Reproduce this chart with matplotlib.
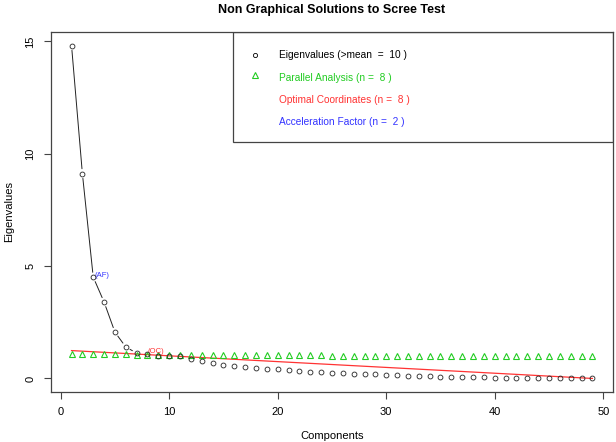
import matplotlib
matplotlib.use("Agg")
import matplotlib.pyplot as plt
from matplotlib.patches import Rectangle

plt.rcParams['font.family'] = ['Liberation Sans', 'DejaVu Sans']

# valeurs propres
components = list(range(1, 50))
eigenvalues = [14.82, 9.12, 4.51, 3.40, 2.06, 1.40, 1.13, 1.08, 1.02, 1.00,
               0.98, 0.86, 0.77, 0.69, 0.60, 0.57, 0.53, 0.46, 0.42, 0.40,
               0.37, 0.31, 0.28, 0.27, 0.26, 0.24, 0.22, 0.21, 0.19, 0.16,
               0.15, 0.11, 0.10, 0.09, 0.08, 0.06, 0.05, 0.05, 0.05, 0.03,
               0.03, 0.02, 0.02, 0.02, 0.02, 0.01, 0.01, 0.00, 0.00]
parallel = [1.09, 1.08, 1.08, 1.07, 1.07, 1.07, 1.06, 1.06, 1.06, 1.05,
            1.05, 1.05, 1.05, 1.04, 1.04, 1.04, 1.04, 1.04, 1.03, 1.03,
            1.03, 1.03, 1.03, 1.03, 1.02, 1.02, 1.02, 1.02, 1.02, 1.02,
            1.02, 1.01, 1.01, 1.01, 1.01, 1.01, 1.01, 1.01, 1.01, 1.01,
            1.00, 1.00, 1.00, 1.00, 1.00, 1.00, 1.00, 1.00, 1.00]
oc_x = [1, 49]
oc_y = [1.24, 0.0]
n_line = 7          # la courbe noire relie les 7 premiers points
af_pos = (3, 4.51)
oc_pos = (8.8, 1.2)
legend_labels = ["Eigenvalues (>mean  =  10 )", "Parallel Analysis (n =  8 )",
                 "Optimal Coordinates (n =  8 )", "Acceleration Factor (n =  2 )"]

fig = plt.figure(figsize=(6.16, 4.42), dpi=100)
ax = fig.add_axes([0.0823, 0.1138, 0.9132, 0.8132])

green = '#22cc22'
ax.plot(oc_x, oc_y, color='#ff3333', lw=0.9, zorder=2)
ax.plot(components, parallel, linestyle='none', marker='^', ms=5, mfc='none',
        mec=green, mew=0.8, zorder=3)
ax.plot(components, eigenvalues, linestyle='none', marker='o', ms=3.5, mfc='none',
        mec='#222222', mew=0.6, zorder=4)
# lignes type "b" de R : avec des trous autour des points
for i in range(n_line - 1):
    ax.annotate("", xy=(components[i + 1], eigenvalues[i + 1]),
                xytext=(components[i], eigenvalues[i]),
                arrowprops=dict(arrowstyle='-', color='#222222', lw=0.7,
                                shrinkA=3.5, shrinkB=3.5), zorder=4)

ax.text(af_pos[0] + 0.15, af_pos[1] + 0.07, "(AF)", color='#3333ff', fontsize=5.5,
        ha='left', va='center')
ax.text(oc_pos[0], oc_pos[1], "(OC)", color='#ff3333', fontsize=5.5,
        ha='center', va='center')

ax.set_xlim(-0.92, 50.92)
ax.set_ylim(-0.59, 15.41)
ax.set_xticks([0, 10, 20, 30, 40, 50])
ax.set_yticks([0, 5, 10, 15])
ax.tick_params(direction='out', length=5, width=0.8, color='#444444', labelsize=8,
               pad=6)
plt.setp(ax.get_yticklabels(), rotation=90, va='center')
for s in ax.spines.values():
    s.set_color('#444444')
    s.set_linewidth(0.9)

ax.set_xlabel("Components", fontsize=8, labelpad=10)
ax.set_ylabel("Eigenvalues", fontsize=8, labelpad=8)
ax.set_title("Non Graphical Solutions to Scree Test", fontsize=9,
             fontweight='bold', pad=14)

# légende dessinée à la main comme dans R
ax.add_patch(Rectangle((0.3236, 0.694), 0.6764, 0.306, transform=ax.transAxes,
                       fill=False, ec='#444444', lw=0.9, zorder=5))
leg_colors = ['black', green, '#ff3333', '#3333ff']
leg_y = [0.937, 0.874, 0.812, 0.751]
ax.plot(0.3632, leg_y[0], marker='o', ms=3, mfc='none', mec='black', mew=0.6,
        transform=ax.transAxes)
ax.plot(0.3632, leg_y[1] + 0.006, marker='^', ms=4, mfc='none', mec=green, mew=0.8,
        transform=ax.transAxes)
for lab, c, yy in zip(legend_labels, leg_colors, leg_y):
    ax.text(0.4064, yy, lab, color=c, fontsize=7.3, ha='left', va='center',
            transform=ax.transAxes)

fig.savefig("out.png", dpi=100)
